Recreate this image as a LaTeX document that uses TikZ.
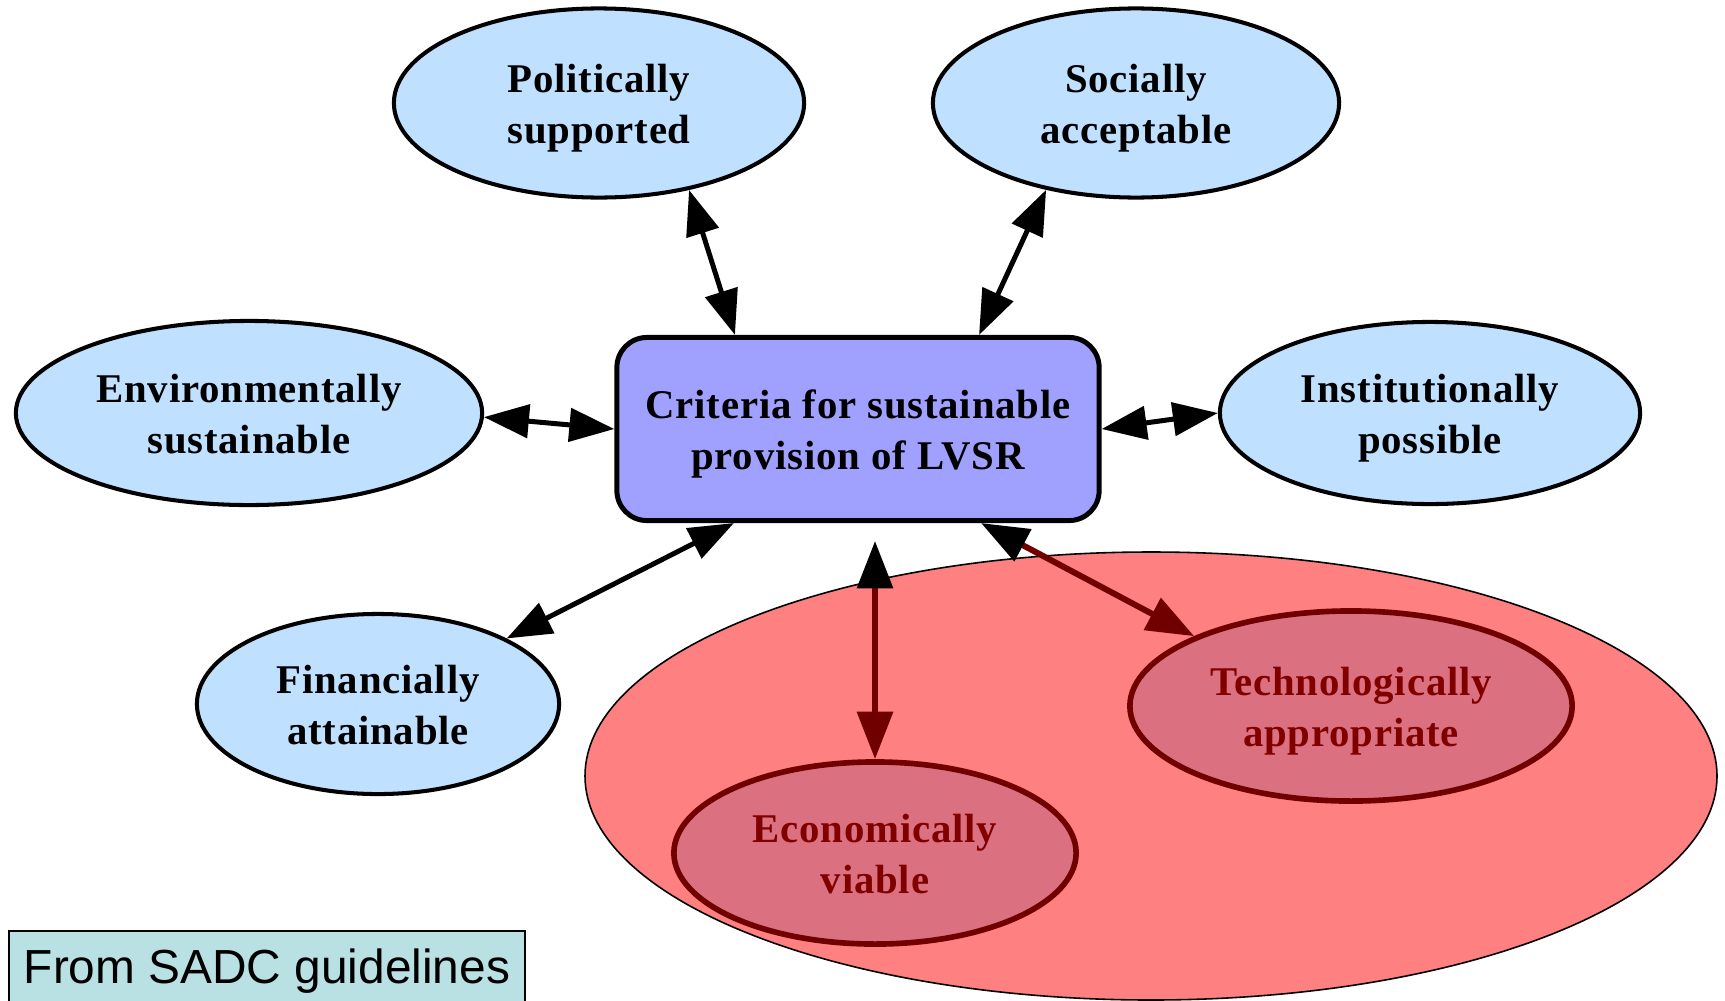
\documentclass[tikz,border=0pt]{standalone}
\usepackage{fontspec}
\setmainfont{Liberation Serif}
\newfontfamily\critfont[LetterSpace=2]{Liberation Serif}
\newfontfamily\sadcfont{Liberation Sans}
\usetikzlibrary{shapes.geometric,arrows.meta,calc}
\definecolor{lblue}{RGB}{192,224,255}
\definecolor{boxblue}{RGB}{160,160,255}
\definecolor{bigred}{RGB}{255,128,128}
\definecolor{innerred}{RGB}{219,112,128}
\definecolor{darkred}{RGB}{112,0,0}
\definecolor{textred}{RGB}{128,0,0}
\definecolor{sadcfill}{RGB}{185,224,227}
\tikzset{
  crittext/.style={font=\critfont\fontsize{11.6}{14.3}\selectfont\bfseries,
    text height=26pt, text depth=3.1pt},
  crit/.style={ellipse, draw=black, line width=1.15pt, fill=lblue, inner sep=0pt, align=center, crittext},
  critred/.style={ellipse, draw=darkred, line width=1.6pt, fill=innerred, inner sep=0pt, align=center,
    text=textred, crittext},
  mainbox/.style={rectangle, rounded corners=0.3cm, draw=black, line width=1.42pt, fill=boxblue,
    inner sep=0pt, align=center, crittext},
  link/.style={line width=1.42pt, {Triangle[length=12.8pt,width=9.4pt]}-{Triangle[length=12.8pt,width=9.4pt]}},
  redlink/.style={line width=1.7pt, draw=darkred,
    {Triangle[length=13.5pt,width=10pt,color=black]}-{Triangle[length=13.5pt,width=10pt,color=darkred]}},
}
\begin{document}
\begin{tikzpicture}[x=0.01cm,y=-0.01cm]
\useasboundingbox (0,0) rectangle (1725,1000);
% big red region
\fill[bigred, draw=black, line width=0.45pt] (1151,776) ellipse [x radius=566, y radius=224];
% nodes
\node[crit, minimum width=4.1cm, minimum height=1.89cm] (pol) at (599,103) {Politically\\supported};
\node[crit, minimum width=4.06cm, minimum height=1.89cm] (soc) at (1136,103) {Socially\\acceptable};
\node[crit, minimum width=4.66cm, minimum height=1.84cm] (env) at (249,413) {Environmentally\\sustainable};
\node[crit, minimum width=4.2cm, minimum height=1.82cm] (inst) at (1430,413) {Institutionally\\possible};
\node[crit, minimum width=3.62cm, minimum height=1.8cm] (fin) at (378,704) {Financially\\attainable};
\node[critred, minimum width=4.02cm, minimum height=1.82cm] (eco) at (875,853) {Economically\\viable};
\node[critred, minimum width=4.42cm, minimum height=1.9cm] (tech) at (1351,706) {Technologically\\appropriate};
\node[mainbox, minimum width=4.82cm, minimum height=1.83cm] (box) at (858,429) {Criteria for sustainable\\provision of LVSR};
\node[rectangle, draw=black, line width=0.45pt, fill=sadcfill, minimum width=5.16cm, minimum height=0.8cm,
  inner sep=0pt, font=\sadcfont\fontsize{13.6}{16}\selectfont] (sadc) at (267,971) {From SADC guidelines};
\coordinate (ecotop) at (875,541);
% connectors
\draw[link] (pol.-44) -- ([xshift=-1.23cm]box.north);
\draw[link] (soc.-136) -- ([xshift=1.21cm]box.north);
\draw[link] (env.-1) -- (box.west);
\draw[link] (box.east) -- (inst.west);
\draw[link] (fin.27) -- ([xshift=-1.24cm]box.south);
\draw[redlink] (ecotop) -- (eco.north);
\draw[redlink] ([xshift=1.23cm]box.south) -- (tech.156);
\end{tikzpicture}
\end{document}
